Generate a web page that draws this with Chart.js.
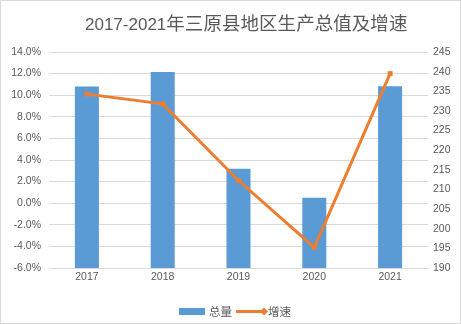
<!DOCTYPE html>
<html>
<head>
<meta charset="utf-8">
<script src="https://cdn.jsdelivr.net/npm/chart.js@4/dist/chart.umd.min.js"></script>
<style>
  html, body { margin: 0; padding: 0; background: #fff; }
  canvas { display: block; }
</style>
</head>
<body>
<canvas id="c" width="461" height="324"></canvas>
<script>
// 三原县 2017-2021 生产总值（亿元）与增速（%）
const chartTitle = '2017-2021年三原县地区生产总值及增速';
const years = ['2017', '2018', '2019', '2020', '2021'];
const totalLabel = '总量';
const growthLabel = '增速';
const totals = [236.2, 239.9, 215.3, 207.9, 236.3];
const growth = [10.1, 9.2, 2.1, -4.1, 12.0];

// axis ranges
const growthAxis = { min: -6, max: 14, step: 2 };
const totalAxis = { min: 190, max: 245, step: 5 };

const TEXT = '#595959';
const GRID = '#d9d9d9';
const BLUE = '#5b9bd5';
const ORANGE = '#ed7d31';
const TICK_FONT = { family: '"Liberation Sans", "Noto Sans CJK SC", sans-serif', size: 10.5 };

// title: latin run in one font, CJK run laid out on a fixed advance
const titlePlugin = {
  id: 'titleText',
  afterDraw(chart) {
    const ctx = chart.ctx;
    const m = chartTitle.match(/^([\x00-\x7f]*)(.*)$/);
    ctx.save();
    ctx.fillStyle = TEXT;
    ctx.textBaseline = 'alphabetic';
    ctx.textAlign = 'left';
    let x = 85;
    ctx.font = '17px "Liberation Sans", sans-serif';
    ctx.fillText(m[1], x, 29.5);
    x += ctx.measureText(m[1]).width;
    ctx.font = '18.5px "Noto Sans CJK SC", sans-serif';
    for (const ch of m[2]) {
      ctx.fillText(ch, x, 30);
      x += 18.55;
    }
    ctx.restore();
  }
};

// legend along the bottom and the outer frame
const legendFramePlugin = {
  id: 'legendFrame',
  afterDraw(chart) {
    const ctx = chart.ctx;
    const ds = chart.data.datasets;
    ctx.save();
    // bar swatch
    ctx.fillStyle = BLUE;
    ctx.fillRect(179, 308, 26, 7);
    ctx.fillStyle = TEXT;
    ctx.font = '11.5px "Noto Sans CJK SC", sans-serif';
    ctx.textBaseline = 'middle';
    ctx.textAlign = 'left';
    ctx.fillText(ds[1].label, 209, 311.5);
    // line swatch with marker
    ctx.strokeStyle = ORANGE;
    ctx.lineWidth = 3;
    ctx.beginPath();
    ctx.moveTo(236, 311.5);
    ctx.lineTo(265, 311.5);
    ctx.stroke();
    ctx.fillStyle = ORANGE;
    ctx.beginPath();
    ctx.moveTo(264, 307.5);
    ctx.lineTo(268, 311.5);
    ctx.lineTo(264, 315.5);
    ctx.lineTo(260, 311.5);
    ctx.closePath();
    ctx.fill();
    ctx.fillStyle = TEXT;
    ctx.fillText(ds[0].label, 268, 311.5);
    // frame
    ctx.strokeStyle = GRID;
    ctx.lineWidth = 1;
    ctx.strokeRect(0.5, 0.5, 460, 323);
    ctx.restore();
  }
};

const whiteBg = {
  id: 'whiteBg',
  beforeDraw(chart) {
    const ctx = chart.ctx;
    ctx.save();
    ctx.fillStyle = '#fff';
    ctx.fillRect(0, 0, chart.width, chart.height);
    ctx.restore();
  }
};

new Chart(document.getElementById('c'), {
  data: {
    labels: years,
    datasets: [
      {
        type: 'line',
        label: growthLabel,
        data: growth,
        yAxisID: 'y',
        borderColor: ORANGE,
        backgroundColor: ORANGE,
        borderWidth: 3,
        tension: 0,
        pointStyle: 'rect',
        pointRadius: 3.5,
        pointBorderWidth: 0,
        pointBackgroundColor: ORANGE,
        order: 0
      },
      {
        type: 'bar',
        label: totalLabel,
        data: totals,
        yAxisID: 'y1',
        backgroundColor: BLUE,
        categoryPercentage: 1,
        barPercentage: 0.317,
        order: 1
      }
    ]
  },
  options: {
    responsive: false,
    animation: false,
    devicePixelRatio: 1,
    layout: { padding: { top: 52, left: 0, right: 0, bottom: 0 } },
    plugins: {
      legend: { display: false },
      title: { display: false },
      tooltip: { enabled: false }
    },
    scales: {
      x: {
        type: 'category',
        offset: true,
        grid: { display: false, drawTicks: false },
        border: { display: true, color: GRID, width: 1 },
        ticks: { color: TEXT, font: TICK_FONT, padding: 3, maxRotation: 0 },
        afterFit(s) { s.height = 56; }
      },
      y: {
        position: 'left',
        min: growthAxis.min,
        max: growthAxis.max,
        grid: { color: GRID, lineWidth: 1, drawTicks: false },
        border: { display: false },
        ticks: {
          stepSize: growthAxis.step,
          color: TEXT,
          font: TICK_FONT,
          padding: 8,
          callback: v => v.toFixed(1) + '%'
        },
        afterFit(s) { s.width = 49; }
      },
      y1: {
        position: 'right',
        min: totalAxis.min,
        max: totalAxis.max,
        grid: { display: false, drawTicks: false },
        border: { display: false },
        ticks: {
          stepSize: totalAxis.step,
          color: TEXT,
          font: TICK_FONT,
          padding: 5,
          callback: v => String(v)
        },
        afterFit(s) { s.width = 33; }
      }
    }
  },
  plugins: [whiteBg, titlePlugin, legendFramePlugin]
});
</script>
</body>
</html>
